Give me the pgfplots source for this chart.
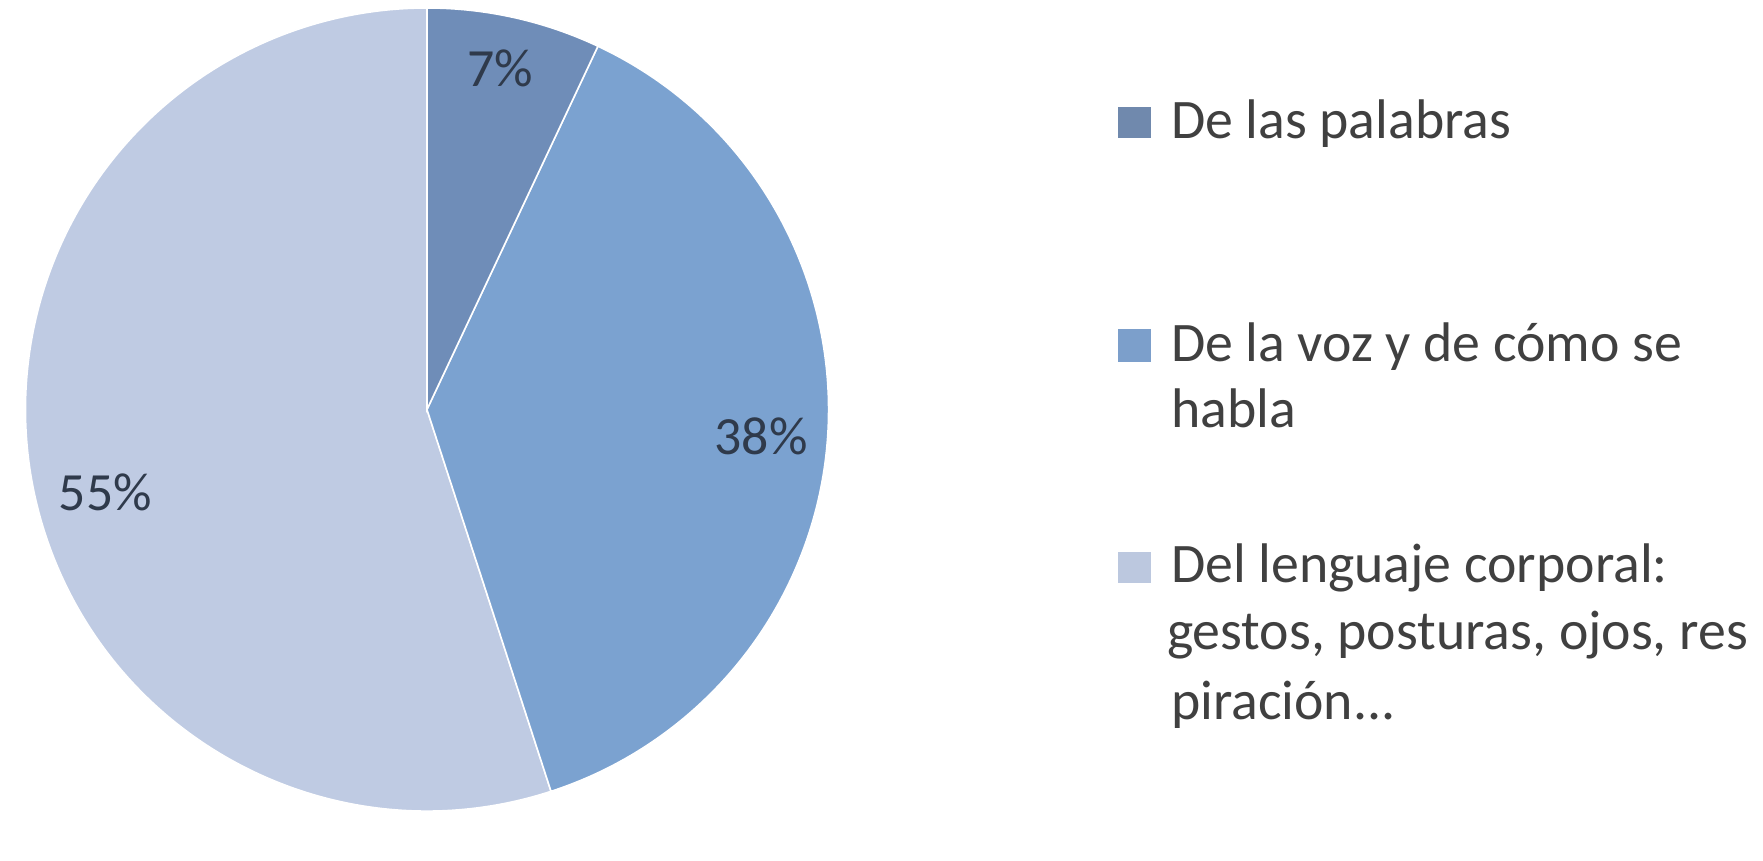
\documentclass[border=0pt]{standalone}
\usepackage{pgfplots}
\pgfplotsset{compat=1.18}
\usepackage{pgfplotstable}
\usetikzlibrary{calc}
\usepackage{fontspec}
\setmainfont{Carlito}

\definecolor{sliceA}{HTML}{6F8DB8}
\definecolor{sliceB}{HTML}{7BA2D0}
\definecolor{sliceC}{HTML}{BFCBE3}
\definecolor{legA}{HTML}{7089AD}
\definecolor{legB}{HTML}{7C9FCB}
\definecolor{legC}{HTML}{BCC8DF}
\definecolor{txt}{HTML}{404040}
\definecolor{lbl}{HTML}{2F3A4B}

% shares in percent
\pgfplotstableread{
share
7
38
55
}\piedata

\pgfplotstablegetelem{0}{share}\of\piedata \let\vA\pgfplotsretval
\pgfplotstablegetelem{1}{share}\of\piedata \let\vB\pgfplotsretval
\pgfplotstablegetelem{2}{share}\of\piedata \let\vC\pgfplotsretval
% clockwise from 12 o'clock
\pgfmathsetmacro\aA{90}
\pgfmathsetmacro\aB{\aA-3.6*\vA}
\pgfmathsetmacro\aC{\aB-3.6*\vB}
\pgfmathsetmacro\aD{\aC-3.6*\vC}
\pgfmathsetmacro\mA{(\aA+\aB)/2}
\pgfmathsetmacro\mB{(\aB+\aC)/2}
\pgfmathsetmacro\mC{(\aC+\aD)/2}

\begin{document}
\begin{tikzpicture}
\begin{axis}[
  width=440.75pt, height=204pt, scale only axis,
  xmin=0, xmax=1763, ymin=0, ymax=816,
  hide axis, clip=false,
]
  \path (rel axis cs:0,0) rectangle (rel axis cs:1,1);
  % pie, radius 403 px = 100.75pt
  \fill[sliceC, draw=white, line width=0.4pt] (axis cs:422,405) -- ++(\aC:100.75pt)
      arc[start angle=\aC, end angle=\aD, radius=100.75pt] -- cycle;
  \fill[sliceB, draw=white, line width=0.4pt] (axis cs:422,405) -- ++(\aB:100.75pt)
      arc[start angle=\aB, end angle=\aC, radius=100.75pt] -- cycle;
  \fill[sliceA, draw=white, line width=0.4pt] (axis cs:422,405) -- ++(\aA:100.75pt)
      arc[start angle=\aA, end angle=\aB, radius=100.75pt] -- cycle;

  \begin{scope}[every node/.style={font=\fontsize{13.5}{16}\selectfont, text=lbl, inner sep=0pt}]
    \node[yshift=3.5pt] at ($(axis cs:422,405)+(\mA:84pt)$) {\vA\%};
    \node[yshift=-1.5pt] at ($(axis cs:422,405)+(\mB:84pt)$) {\vB\%};
    \node[xshift=2.25pt, yshift=-7.75pt] at ($(axis cs:422,405)+(\mC:84pt)$) {\vC\%};
  \end{scope}

  % legend
  \fill[legA] (axis cs:1116,677) rectangle (axis cs:1149,709);
  \fill[legB] (axis cs:1116,453) rectangle (axis cs:1149,486);
  \fill[legC] (axis cs:1116,231) rectangle (axis cs:1149,262);
  \begin{scope}[every node/.style={font=\fontsize{14}{16}\selectfont, text=txt, inner sep=0pt, anchor=base west}]
    \node at (axis cs:1168,677) {De las palabras};
    \node at (axis cs:1168,453) {De la voz y de cómo se};
    \node at (axis cs:1168,387) {habla};
    \node at (axis cs:1168,231) {Del lenguaje corporal:};
    \node at (axis cs:1164,164) {gestos, posturas, ojos, res};
    \node at (axis cs:1168,94) {piración...};
  \end{scope}
\end{axis}
\end{tikzpicture}
\end{document}
